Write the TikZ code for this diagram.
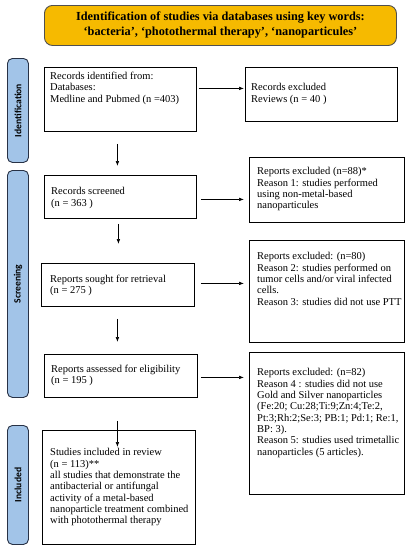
\documentclass[tikz,border=0pt]{standalone}
\usepackage{fontspec}
\setmainfont{Liberation Serif}
\newfontfamily\sidefont{Carlito}
\usetikzlibrary{arrows.meta}
\definecolor{bannerfill}{RGB}{246,186,0}
\definecolor{bannerline}{RGB}{80,80,80}
\definecolor{sidefill}{RGB}{162,196,232}
\definecolor{sideline}{RGB}{40,50,70}
\tikzset{
  box/.style={draw=black, line width=0.8pt, fill=white, anchor=north west, inner sep=0pt},
  txt/.style={anchor=north west, inner sep=0pt, align=left, font=\fontsize{10.5}{11.3}\selectfont},
  sidebar/.style={draw=sideline, line width=0.9pt, fill=sidefill, rounded corners=5pt, anchor=north west, inner sep=0pt},
  sidelabel/.style={rotate=90, inner sep=0pt, font=\sidefont\bfseries\fontsize{9.6}{10}\selectfont},
  arr/.style={line width=0.6pt, -{Latex[length=5pt,width=3.6pt]}}
}
\begin{document}
\begin{tikzpicture}[x=1pt,y=-1pt]
\useasboundingbox (0,0) rectangle (408,550);
% banner
\node[draw=bannerline, line width=0.9pt, fill=bannerfill, rounded corners=8pt, anchor=north west,
      minimum width=352pt, minimum height=40pt, inner sep=0pt] (banner) at (44,5) {};
\node[align=center, inner sep=0pt, font=\bfseries\fontsize{12.3}{14.5}\selectfont] (title) at ([yshift=0.5pt]banner.center)
  {Identification of studies via databases using key words:\\ ‘bacteria’, ‘photothermal therapy’, ‘nanoparticules’};
% side bars
\node[sidebar, minimum width=21pt, minimum height=104pt] (s1) at (7,58) {};
\node[sidelabel] (l1) at (s1.center) {Identification};
\node[sidebar, minimum width=21pt, minimum height=227pt] (s2) at (7,170) {};
\node[sidelabel] (l2) at (s2.center) {Screening};
\node[sidebar, minimum width=21pt, minimum height=119pt] (s3) at (7,425) {};
\node[sidelabel] (l3) at (s3.center) {Included};
% boxes
\node[box, minimum width=152pt, minimum height=64pt] (b1) at (44,67) {};
\node[txt] (t1) at (50,72) {Records identified from:\\ Databases:\\ Medline and Pubmed (n =403)};
\node[box, minimum width=152pt, minimum height=54pt] (e1) at (245,67) {};
\node[txt] (u1) at (251,83.5) {Records excluded\\ Reviews (n = 40 )};
\node[box, minimum width=152pt, minimum height=43pt] (b2) at (44,175) {};
\node[txt] (t2) at (51,187.5) {Records screened\\ (n = 363 )};
\node[box, minimum width=155pt, minimum height=65pt] (e2) at (249,157) {};
\node[txt] (u2) at (257,167.5) {Reports excluded (n=88)*\\ Reason 1: studies performed\\ using non-metal-based\\ nanoparticules};
\node[box, minimum width=153pt, minimum height=43pt] (b3) at (41,263) {};
\node[txt] (t3) at (50,274.5) {Reports sought for retrieval\\ (n = 275 )};
\node[box, minimum width=155pt, minimum height=102pt] (e3) at (249,240) {};
\node[txt] (u3) at (257,252.5) {Reports excluded: (n=80)\\ Reason 2: studies performed on\\ tumor cells and/or viral infected\\ cells.\\ Reason 3: studies did not use PTT};
\node[box, minimum width=153pt, minimum height=43pt] (b4) at (44,354) {};
\node[txt] (t4) at (51,364.5) {Reports assessed for eligibility\\ (n = 195 )};
\node[box, minimum width=155pt, minimum height=142pt] (e4) at (249,352) {};
\node[txt] (u4) at (257,368.5) {Reports excluded: (n=82)\\ Reason 4 : studies did not use\\ Gold and Silver nanoparticles\\ (Fe:20; Cu:28;Ti:9;Zn:4;Te:2,\\ Pt:3;Rh:2;Se:3; PB:1; Pd:1; Re:1,\\ BP: 3).\\ Reason 5: studies used trimetallic\\ nanoparticles (5 articles).};
\node[box, minimum width=153pt, minimum height=114pt] (b5) at (42,430) {};
% arrows
\draw[arr] ([shift={(2pt,11pt)}]b1.east) -- ([shift={(-1pt,6pt)}]e1.west);
\draw[arr] ([shift={(-3pt,-12pt)}]b1.south) -- ([shift={(-3pt,9pt)}]b2.north);
\draw[arr] ([shift={(4pt,-2.5pt)}]b2.east) -- ([shift={(-5pt,-9.5pt)}]e2.west);
\draw[arr] ([shift={(-2pt,-5pt)}]b2.south) -- ([shift={(0.5pt,19pt)}]b3.north);
\draw[arr] ([shift={(6pt,1.5pt)}]b3.east) -- ([shift={(-5pt,8pt)}]e3.west);
\draw[arr] ([shift={(-0.5pt,-12pt)}]b3.south) -- ([shift={(-3.5pt,12pt)}]b4.north);
\draw[arr] ([shift={(3pt,-1.5pt)}]b4.east) -- ([shift={(-5pt,46pt)}]e4.west);
\draw[arr] ([shift={(-3.5pt,-23pt)}]b4.south) -- ([shift={(-1.5pt,-17pt)}]b5.north);
\node[txt] (t5) at (50,448.5) {Studies included in review\\ (n = 113)**\\ all studies that demonstrate the\\ antibacterial or antifungal\\ activity of a metal-based\\ nanoparticle treatment combined\\ with photothermal therapy};
\end{tikzpicture}
\end{document}
